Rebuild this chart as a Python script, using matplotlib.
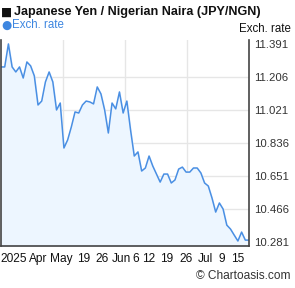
import matplotlib
matplotlib.use('Agg')
import matplotlib.pyplot as plt
import numpy as np

plt.rcParams['font.family'] = ['Liberation Sans', 'DejaVu Sans']

# JPY/NGN daily rate, about 3 months of weekdays
rate = [11.262, 11.262, 11.391, 11.262, 11.234, 11.262, 11.200, 11.290, 11.268, 11.212,
        11.049, 11.071, 11.178, 11.234, 11.178, 11.021, 11.060, 10.808, 10.853, 10.926,
        11.010, 11.004, 11.049, 11.071, 11.066, 11.055, 11.150, 11.111, 11.021, 10.892,
        11.060, 11.027, 11.122, 11.004, 11.071, 10.909, 10.763, 10.786, 10.679, 10.696,
        10.763, 10.707, 10.662, 10.617, 10.662, 10.662, 10.612, 10.629, 10.690, 10.701,
        10.673, 10.673, 10.696, 10.696, 10.668, 10.612, 10.595, 10.528, 10.449, 10.500,
        10.466, 10.376, 10.354, 10.320, 10.287, 10.337, 10.292, 10.292]
yticks = [10.281, 10.466, 10.651, 10.836, 11.021, 11.206, 11.391]
xlabels = ['2025', 'Apr', 'May', '19', '26', 'Jun', '6', '12', '19', '26', 'Jul', '9', '15']
xlabel_pos = [3.5, 10.0, 16.2, 22.3, 27.3, 32.4, 36.3, 39.9, 44.7, 50.1, 55.3, 59.6, 63.9]

x = np.arange(len(rate))
ymin, ymax = 10.259, 11.413

fig = plt.figure(figsize=(2.95, 2.88), dpi=100)
ax = fig.add_axes([1/295, 1-246/288, 248/295, 206/288])

ax.fill_between(x, rate, ymin, color='#edf6ff', zorder=1)
ax.plot(x, rate, color='#4a8fe3', lw=1.1, zorder=2)

ax.set_xlim(0, len(rate) - 1)
ax.set_ylim(ymin, ymax)

ax.set_yticks(yticks)
ax.set_yticklabels(['%.3f' % v for v in yticks])
ax.yaxis.tick_right()
ax.tick_params(axis='y', length=0, pad=4, labelsize=8.2, labelcolor='#333333')
ax.grid(axis='y', color='#e6e6e6', lw=1, zorder=0)
ygl = ax.get_ygridlines()
ygl[0].set_visible(False)
ygl[-1].set_visible(False)

ax.set_xticks(xlabel_pos)
ax.set_xticklabels(xlabels)
ax.tick_params(axis='x', length=0, pad=5, labelsize=8.6, labelcolor='#111111')
ax.set_xticks([(len(rate) - 1) * q for q in (0.25, 0.5, 0.75)], minor=True)
ax.tick_params(axis='x', which='minor', length=0)
ax.grid(axis='x', which='minor', color='#e6e6e6', lw=1, zorder=0)

ax.spines['top'].set_visible(False)
for s in ('left', 'right', 'bottom'):
    ax.spines[s].set_color('#444444')
    ax.spines[s].set_linewidth(1.2)
ax.set_axisbelow(True)

fig.text(1/295, 1-12/288, '\u25a0', fontsize=8.5, color='#111111', va='center', ha='left',
         family=['DejaVu Sans'])
fig.text(14/295, 1-12/288, 'Japanese Yen / Nigerian Naira (JPY/NGN)', fontsize=9.1,
         fontweight='bold', color='#111111', va='center', ha='left')
fig.text(1/295, 1-25/288, '\u25cf', fontsize=8.5, color='#3d86e0', va='center', ha='left',
         family=['DejaVu Sans'])
fig.text(12/295, 1-25/288, 'Exch. rate', fontsize=8.3, color='#3d86e0', va='center', ha='left')
fig.text(291/295, 1-29/288, 'Exch. rate', fontsize=8.3, color='#111111', va='center', ha='right')
fig.text(291/295, 1-276/288, '\u00a9 Chartoasis.com', fontsize=8.6, color='#333333',
         va='center', ha='right')

fig.savefig('out.png', dpi=100)
